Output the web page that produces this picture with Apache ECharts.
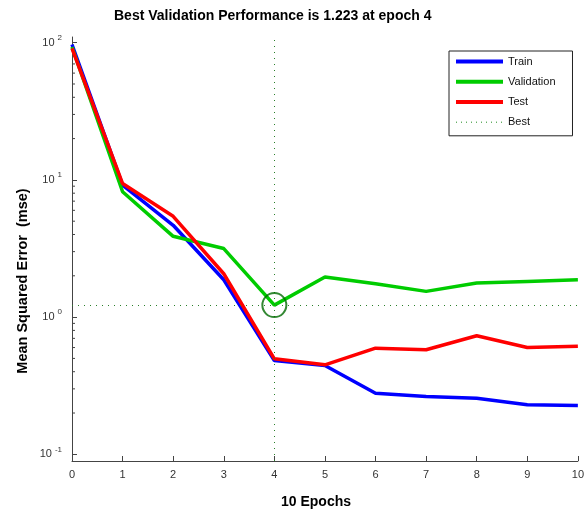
<!DOCTYPE html>
<html>
<head>
<meta charset="utf-8">
<script src="https://cdn.jsdelivr.net/npm/echarts@6/dist/echarts.min.js"></script>
<style>
html,body{margin:0;padding:0;background:#fff;}
#chart{width:587px;height:513px;}
</style>
</head>
<body>
<div id="chart"></div>
<script>
var epochs = [0, 1, 2, 3, 4, 5, 6, 7, 8, 9, 10];
var trainPerf = [97, 9.15, 4.67, 1.87, 0.483, 0.444, 0.279, 0.264, 0.256, 0.230, 0.227];
var valPerf = [93, 8.2, 3.88, 3.16, 1.223, 1.96, 1.75, 1.54, 1.77, 1.82, 1.87];
var testPerf = [91, 9.4, 5.43, 2.07, 0.497, 0.449, 0.594, 0.578, 0.731, 0.601, 0.614];
var bestEpoch = 4;
var bestPerf = 1.223;
var yMin = 0.0894;
var yMax = 110;
var tickMin = 0.1;
var tickMax = 100;
var minorTickValues = [0.2, 0.3, 0.4, 0.5, 0.6, 0.7, 0.8, 0.9,
                       2, 3, 4, 5, 6, 7, 8, 9,
                       20, 30, 40, 50, 60, 70, 80, 90];
var titleText = 'Best Validation Performance is 1.223 at epoch 4';
var xName = '10 Epochs';
var yName = 'Mean Squared Error  (mse)';

function pairs(vals) {
  return epochs.map(function (e, i) { return [e, vals[i]]; });
}

var FONT = '"Liberation Sans", Arial, sans-serif';
var W = 587, H = 513;
var gLeft = 72, gRight = 1, gTop = 37, gBottom = 52;
var gH = H - gTop - gBottom;
var span = Math.log10(yMax) - Math.log10(yMin);
var innerTop = gTop + (Math.log10(yMax) - Math.log10(tickMax)) / span * gH;
var innerBottom = gBottom + (Math.log10(tickMin) - Math.log10(yMin)) / span * gH;

var AX = '#444';
var LW = 3.5;
var BEST_C = '#1f8a1f';
var chart = echarts.init(document.getElementById('chart'), null, {renderer: 'canvas'});

chart.setOption({
  backgroundColor: '#ffffff',
  animation: false,
  title: {
    text: titleText,
    left: 114,
    top: 9,
    padding: 0,
    textStyle: {fontFamily: FONT, fontSize: 14, fontWeight: 'bold', color: '#000'}
  },
  grid: [
    {left: gLeft, right: gRight, top: gTop, bottom: gBottom, containLabel: false},
    {left: gLeft, right: gRight, top: innerTop, bottom: innerBottom, containLabel: false}
  ],
  legend: {
    data: [
      {name: 'Train', lineStyle: {width: 4, color: '#0000ff'}},
      {name: 'Validation', lineStyle: {width: 4, color: '#00cc00'}},
      {name: 'Test', lineStyle: {width: 4, color: '#ff0000'}},
      {name: 'Best', lineStyle: {width: 1, color: BEST_C, type: [1, 4]}}
    ],
    orient: 'vertical',
    left: 449,
    top: 51,
    itemWidth: 47,
    itemHeight: 14,
    itemGap: 9,
    padding: [5, 17, 8, 5],
    borderColor: '#222',
    borderWidth: 1,
    backgroundColor: '#fff',
    itemStyle: {opacity: 0},
    textStyle: {fontFamily: FONT, fontSize: 11, color: '#111'}
  },
  xAxis: [
    {
      type: 'value', gridIndex: 0, min: 0, max: 10, interval: 1,
      axisLine: {show: true, lineStyle: {color: AX, width: 1}},
      axisTick: {show: true, inside: true, length: 5, lineStyle: {color: AX}},
      axisLabel: {fontFamily: FONT, fontSize: 11, color: '#333', margin: 8},
      splitLine: {show: false}
    },
    {
      type: 'value', gridIndex: 1, min: 0, max: 10, interval: 1, show: false
    }
  ],
  yAxis: [
    {
      type: 'log', logBase: 10, gridIndex: 0, min: yMin, max: yMax,
      axisLine: {show: true, lineStyle: {color: AX, width: 1}},
      axisTick: {show: false},
      axisLabel: {show: false},
      splitLine: {show: false}
    },
    {
      type: 'log', logBase: 10, gridIndex: 1, min: tickMin, max: tickMax,
      axisLine: {show: false},
      axisTick: {show: true, inside: true, length: 5, lineStyle: {color: AX}},
      axisLabel: {
        margin: 10,
        formatter: function (v) {
          var l = Math.log10(v);
          var e = Math.round(l);
          if (Math.abs(l - e) > 1e-6) return '';
          return '{b|10}{s|' + e + '}';
        },
        rich: {
          b: {fontFamily: FONT, fontSize: 11, color: '#333', lineHeight: 18},
          s: {fontFamily: FONT, fontSize: 8, color: '#333', lineHeight: 8, verticalAlign: 'top', padding: [0, 0, 0, 3]}
        }
      },
      splitLine: {show: false}
    }
  ],
  graphic: [
    {
      type: 'text',
      x: 23,
      y: 281,
      rotation: Math.PI / 2,
      style: {text: yName, fontFamily: FONT, fontSize: 14.5, fontWeight: 'bold', fill: '#000', align: 'center', verticalAlign: 'middle'}
    },
    {
      type: 'text',
      x: 316,
      y: 502,
      style: {text: xName, fontFamily: FONT, fontSize: 14, fontWeight: 'bold', fill: '#000', align: 'center', verticalAlign: 'middle'}
    }
  ],
  series: [
    {
      name: 'minorTicks',
      type: 'custom',
      xAxisIndex: 1, yAxisIndex: 1,
      silent: true,
      clip: false,
      data: minorTickValues.map(function (v) { return [0, v]; }),
      renderItem: function (params, api) {
        var p = api.coord([api.value(0), api.value(1)]);
        return {
          type: 'line',
          shape: {x1: p[0], y1: p[1], x2: p[0] + 3, y2: p[1]},
          style: {stroke: AX, lineWidth: 1}
        };
      }
    },
    {
      name: 'Best',
      type: 'line',
      xAxisIndex: 0, yAxisIndex: 0,
      data: [],
      symbol: 'none',
      lineStyle: {color: BEST_C, width: 1, type: [1, 4]},
      itemStyle: {color: BEST_C},
      markLine: {
        silent: true,
        symbol: ['none', 'none'],
        label: {show: false},
        lineStyle: {color: '#2a7f2a', width: 1, type: [1, 5]},
        data: [{xAxis: bestEpoch}, {yAxis: bestPerf}]
      }
    },
    {
      name: 'Train', type: 'line', xAxisIndex: 0, yAxisIndex: 0, data: pairs(trainPerf), symbol: 'none',
      lineStyle: {color: '#0000ff', width: LW}, itemStyle: {color: '#0000ff'}
    },
    {
      name: 'Validation', type: 'line', xAxisIndex: 0, yAxisIndex: 0, data: pairs(valPerf), symbol: 'none',
      lineStyle: {color: '#00cc00', width: LW}, itemStyle: {color: '#00cc00'}
    },
    {
      name: 'Test', type: 'line', xAxisIndex: 0, yAxisIndex: 0, data: pairs(testPerf), symbol: 'none',
      lineStyle: {color: '#ff0000', width: LW}, itemStyle: {color: '#ff0000'}
    },
    {
      name: 'BestPoint', type: 'scatter', xAxisIndex: 0, yAxisIndex: 0, data: [[bestEpoch, bestPerf]],
      symbol: 'circle', symbolSize: 24, z: 10,
      itemStyle: {color: 'rgba(0,0,0,0)', borderColor: '#006a00', borderWidth: 2}
    }
  ]
});
</script>
</body>
</html>
